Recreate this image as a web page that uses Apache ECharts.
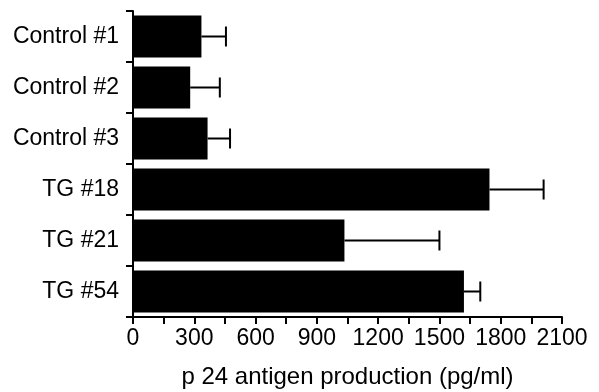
<!DOCTYPE html>
<html>
<head>
<meta charset="utf-8">
<script src="https://cdn.jsdelivr.net/npm/echarts@6/dist/echarts.min.js"></script>
<style>
  html, body { margin: 0; padding: 0; background: #fff; }
  #main { width: 599px; height: 392px; }
</style>
</head>
<body>
<div id="main"></div>
<script>
var categories = ['Control #1', 'Control #2', 'Control #3', 'TG #18', 'TG #21', 'TG #54'];
var means = [335, 280, 365, 1745, 1035, 1620];
var errors = [120, 145, 110, 265, 465, 80];

var font = "'Liberation Sans', Arial, sans-serif";
var myChart = echarts.init(document.getElementById('main'));

var errData = means.map(function (m, i) { return [m, i, m + errors[i]]; });

var option = {
    animation: false,
    backgroundColor: '#fff',
    grid: { left: 133, right: 37, top: 11, bottom: 75, outerBoundsMode: 'none', containLabel: false },
    xAxis: {
        type: 'value',
        min: 0,
        max: 2100,
        interval: 300,
        name: 'p 24 antigen production (pg/ml)',
        nameLocation: 'middle',
        nameGap: 48,
        nameTextStyle: { color: '#000', fontSize: 24, fontFamily: font },
        axisLine: { show: true, lineStyle: { color: '#000', width: 2 } },
        axisTick: { show: true, length: 7, lineStyle: { color: '#000', width: 2 } },
        minorTick: { show: true, splitNumber: 2, length: 7, lineStyle: { color: '#000', width: 2 } },
        axisLabel: {
            color: '#000', fontSize: 23, fontFamily: font, margin: 10,
            formatter: function (v) { return String(v); }
        },
        splitLine: { show: false }
    },
    yAxis: {
        type: 'category',
        data: categories,
        inverse: true,
        axisLine: { show: true, lineStyle: { color: '#000', width: 2 } },
        axisTick: { show: true, length: 7, lineStyle: { color: '#000', width: 2 } },
        axisLabel: { color: '#000', fontSize: 23, fontFamily: font, margin: 14 },
        splitLine: { show: false }
    },
    series: [
        {
            type: 'bar',
            data: means,
            barWidth: '82%',
            itemStyle: { color: '#000' }
        },
        {
            type: 'custom',
            data: errData,
            encode: { x: [0, 2], y: 1 },
            z: 1,
            renderItem: function (params, api) {
                var y = api.value(1);
                var start = api.coord([api.value(0), y]);
                var end = api.coord([api.value(2), y]);
                var cap = 10;
                var style = { stroke: '#000', lineWidth: 2 };
                return {
                    type: 'group',
                    children: [
                        { type: 'line', shape: { x1: start[0], y1: start[1], x2: end[0], y2: end[1] }, style: style },
                        { type: 'line', shape: { x1: end[0], y1: end[1] - cap, x2: end[0], y2: end[1] + cap }, style: style }
                    ]
                };
            }
        }
    ]
};
myChart.setOption(option);
</script>
</body>
</html>
